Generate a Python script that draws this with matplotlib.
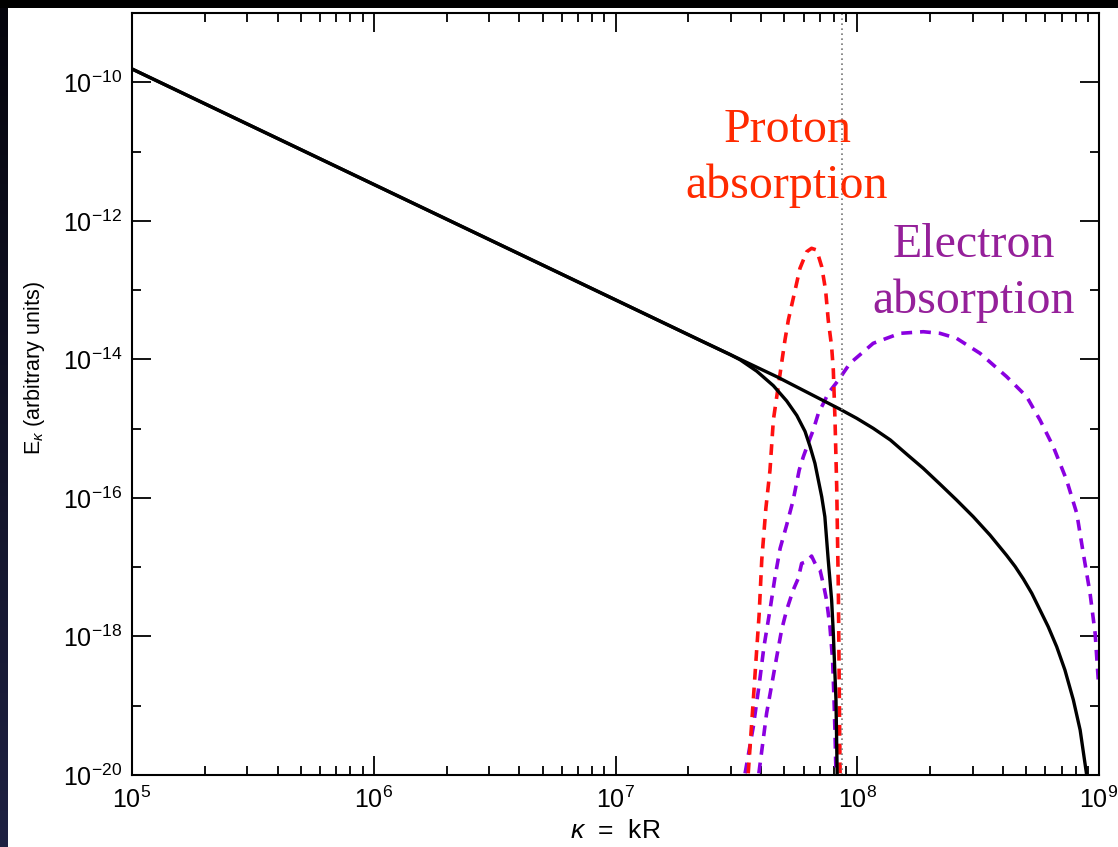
import numpy as np
import matplotlib
matplotlib.use("Agg")
import matplotlib.pyplot as plt
from matplotlib.patches import Rectangle
from matplotlib.ticker import NullFormatter

plt.rcParams['mathtext.fontset'] = 'custom'
plt.rcParams['mathtext.rm'] = 'Liberation Sans'
plt.rcParams['mathtext.it'] = 'Liberation Sans:italic'
plt.rcParams['mathtext.sf'] = 'Liberation Sans'
plt.rcParams['font.family'] = ['Liberation Sans', 'DejaVu Sans']

# ---- data (log10 values) ----
# black: spectrum with electron-scale cutoff
elec_logk = [5.0, 7.0, 7.35, 7.667, 7.929, 7.998, 8.066, 8.137, 8.205, 8.273, 8.342, 8.411, 8.480,
             8.549, 8.618, 8.653, 8.687, 8.722, 8.756, 8.790, 8.825, 8.859, 8.894, 8.922, 8.949]
elec_logE = [-9.808, -13.141, -13.725, -14.25, -14.72, -14.851, -14.995, -15.164, -15.37, -15.573, -15.80, -16.031, -16.272,
             -16.536, -16.83, -16.99, -17.17, -17.377, -17.618, -17.860, -18.148, -18.484, -18.918, -19.351, -20.0]
# black: spectrum with proton-scale cutoff
prot_logk = [5.0, 7.0, 7.35, 7.474, 7.515, 7.584, 7.653, 7.708, 7.750, 7.784, 7.805, 7.825, 7.839, 7.853,
             7.866, 7.880, 7.894, 7.901, 7.912, 7.917]
prot_logE = [-9.808, -13.141, -13.725, -13.93, -14.005, -14.17, -14.38, -14.60, -14.81, -15.04, -15.261, -15.501, -15.742, -15.983,
             -16.271, -16.897, -17.474, -17.955, -18.918, -20.0]
# red dashed: proton absorption
pabs_logk = [7.549, 7.570, 7.584, 7.594, 7.605, 7.622, 7.639, 7.653, 7.673, 7.701, 7.715, 7.743, 7.763, 7.791, 7.811,
             7.832, 7.853, 7.869, 7.880, 7.894, 7.901, 7.908, 7.915, 7.922, 7.926, 7.929]
pabs_logE = [-19.976, -18.918, -18.196, -17.691, -16.897, -16.151, -15.600, -14.876, -14.395, -13.721, -13.432, -12.999, -12.686, -12.446, -12.397,
             -12.421, -12.662, -12.999, -13.432, -13.817, -14.154, -14.876, -15.838, -17.377, -18.918, -19.976]
# purple dashed: electron absorption (main hump)
eabs_logk = [7.536, 7.570, 7.595, 7.614, 7.639, 7.660, 7.681, 7.708, 7.735, 7.760, 7.777, 7.797, 7.818, 7.839, 7.860,
             7.880, 7.922, 7.970, 8.018, 8.066, 8.177, 8.273, 8.342, 8.411, 8.508, 8.618, 8.701, 8.756, 8.811, 8.866,
             8.908, 8.935, 8.963, 8.984, 8.997]
eabs_logE = [-19.976, -19.303, -18.677, -18.148, -17.618, -17.138, -16.728, -16.391, -16.031, -15.597, -15.405, -15.212, -15.020, -14.780, -14.635,
             -14.490, -14.300, -14.057, -13.913, -13.768, -13.624, -13.601, -13.624, -13.696, -13.913, -14.250, -14.539, -14.876, -15.261, -15.742,
             -16.223, -16.800, -17.377, -17.955, -18.629]
# purple dashed: electron absorption (small hump)
eabs2_logk = [7.593, 7.625, 7.667, 7.687, 7.708, 7.735, 7.756, 7.770, 7.791, 7.811, 7.832, 7.846, 7.862, 7.873, 7.887, 7.898, 7.904, 7.908, 7.912]
eabs2_logE = [-19.976, -19.110, -18.292, -17.907, -17.618, -17.330, -17.161, -16.945, -16.921, -16.839, -16.993, -17.041, -17.282, -17.474, -17.860, -18.340, -18.918, -19.399, -19.976]

k_marker = 10 ** 7.936

x_major = [1e5, 1e6, 1e7, 1e8, 1e9]
x_labels = ['$10^{5}$', '$10^{6}$', '$10^{7}$', '$10^{8}$', '$10^{9}$']
y_major = [1e-20, 1e-18, 1e-16, 1e-14, 1e-12, 1e-10]
y_labels = ['$10^{-20}$', '$10^{-18}$', '$10^{-16}$', '$10^{-14}$', '$10^{-12}$', '$10^{-10}$']
y_minor = [1e-19, 1e-17, 1e-15, 1e-13, 1e-11]


def p(v):
    return 10 ** np.array(v)


W, H = 1118, 847
fig = plt.figure(figsize=(W / 100, H / 100), dpi=100)
fig.patch.set_facecolor('black')

# white panel
fig.patches.append(Rectangle((8 / W, 0), 1, (H - 8) / H, transform=fig.transFigure,
                             facecolor='white', edgecolor='none', zorder=-10))
# left dark-blue gradient strip
gax = fig.add_axes([0, 0, 8 / W, (H - 8) / H])
grad = np.linspace(0, 1, 256).reshape(-1, 1)
cols = np.zeros((256, 1, 3))
top = np.array([0.02, 0.02, 0.05])
bot = np.array([0.12, 0.13, 0.26])
cols[:, 0, :] = top[None, :] * (1 - grad) + bot[None, :] * grad
gax.imshow(cols, aspect='auto', extent=[0, 1, 0, 1])
gax.axis('off')

ax = fig.add_axes([132 / W, (H - 775) / H, (1099 - 132) / W, (775 - 13) / H])
ax.set_xscale('log')
ax.set_yscale('log')
ax.set_xlim(1e5, 1e9)
ax.set_ylim(1e-20, 1e-9)

dash = (0, (3, 2.2))
ax.plot(p(eabs2_logk), p(eabs2_logE), color='#8a00e0', lw=2.6, ls=dash)
ax.plot(p(eabs_logk), p(eabs_logE), color='#8a00e0', lw=2.6, ls=dash)
ax.plot(p(pabs_logk), p(pabs_logE), color='#ff1010', lw=2.6, ls=dash)
ax.plot(p(prot_logk), p(prot_logE), color='black', lw=2.4)
ax.plot(p(elec_logk), p(elec_logE), color='black', lw=2.4)
ax.axvline(k_marker, color='#777777', lw=1.2, ls=(0, (1, 2)))

ax.set_xticks(x_major)
ax.set_xticklabels(x_labels)
ax.set_xticks([m * 10 ** d for d in range(5, 9) for m in range(2, 10)], minor=True)
ax.set_yticks(y_major)
ax.set_yticklabels(y_labels)
ax.set_yticks(y_minor, minor=True)
ax.xaxis.set_minor_formatter(NullFormatter())
ax.yaxis.set_minor_formatter(NullFormatter())
ax.tick_params(axis='both', which='both', direction='in', top=True, right=True,
               labelsize=18, colors='black')
ax.tick_params(axis='both', which='major', length=13.5, width=1.3)
ax.tick_params(axis='both', which='minor', length=6.5, width=1.3)
ax.tick_params(axis='x', which='major', pad=8)
ax.tick_params(axis='y', which='major', pad=7)
for s in ax.spines.values():
    s.set_linewidth(1.5)

ax.set_xlabel(r'$\kappa$  =  kR', fontsize=19, labelpad=5)
ax.set_ylabel(r'E$_{\kappa}$ (arbitrary units)', fontsize=15.5)
ax.yaxis.set_label_coords(-0.088, 0.534)

serif = 'Liberation Serif'
ax.text(10 ** 7.7115, 10 ** -10.862, 'Proton', color='#ff2a00', fontsize=34.5,
        family=serif, ha='center', va='baseline')
ax.text(10 ** 7.709, 10 ** -11.671, 'absorption', color='#ff2a00', fontsize=34.5,
        family=serif, ha='center', va='baseline')
ax.text(10 ** 8.483, 10 ** -12.522, 'Electron', color='#95209a', fontsize=34.5,
        family=serif, ha='center', va='baseline')
ax.text(10 ** 8.483, 10 ** -13.331, 'absorption', color='#95209a', fontsize=34.5,
        family=serif, ha='center', va='baseline')

fig.savefig('out.png', dpi=100, facecolor=fig.get_facecolor())
